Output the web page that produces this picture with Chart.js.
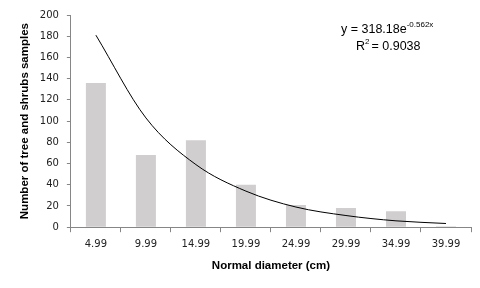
<!DOCTYPE html>
<html>
<head>
<meta charset="utf-8">
<script src="https://cdn.jsdelivr.net/npm/chart.js@4/dist/chart.umd.min.js"></script>
<style>
  html, body { margin: 0; padding: 0; background: #fff; }
  #wrap { width: 480px; height: 288px; }
</style>
</head>
<body>
<div id="wrap"><canvas id="diameterChart"></canvas></div>
<script>
const diameterClasses = ["4.99", "9.99", "14.99", "19.99", "24.99", "29.99", "34.99", "39.99"];
const sampleCounts = [136, 68, 82, 40, 21, 18, 15, 1];
// exponential trendline at each class
const trendValues = [181, 103, 59, 34, 19, 11, 6, 3.5];
const yTicks = [0, 20, 40, 60, 80, 100, 120, 140, 160, 180, 200];

const axisGray = "#868686";

const equationLabel = {
    id: "equationLabel",
    afterDraw(chart) {
        const ctx = chart.ctx;
        const area = chart.chartArea;
        const x0 = area.right - 130;
        ctx.save();
        ctx.fillStyle = "#000";
        ctx.textBaseline = "alphabetic";
        ctx.textAlign = "left";
        ctx.font = "12.5px 'Liberation Sans'";
        const main = "y = 318.18e";
        ctx.fillText(main, x0, area.top + 18);
        const w = ctx.measureText(main).width;
        ctx.font = "8px 'Liberation Sans'";
        ctx.fillText("-0.562x", x0 + w, area.top + 12);
        ctx.font = "12.5px 'Liberation Sans'";
        ctx.fillText("R", x0 + 15, area.top + 35);
        const rw = ctx.measureText("R").width;
        ctx.font = "8px 'Liberation Sans'";
        ctx.fillText("2", x0 + 15 + rw, area.top + 29);
        ctx.font = "12.5px 'Liberation Sans'";
        ctx.fillText(" = 0.9038", x0 + 15 + rw + 3, area.top + 35);
        ctx.restore();
    },
};

new Chart(document.getElementById("diameterChart").getContext("2d"), {
    data: {
        labels: diameterClasses,
        datasets: [
            {
                type: "line",
                data: trendValues,
                borderColor: "#000",
                borderWidth: 1,
                pointRadius: 0,
                cubicInterpolationMode: "monotone",
                fill: false,
                order: 0,
            },
            {
                type: "bar",
                data: sampleCounts,
                backgroundColor: "#d0cece",
                barPercentage: 0.4,
                categoryPercentage: 1,
                order: 1,
            },
        ],
    },
    options: {
        responsive: true,
        maintainAspectRatio: false,
        animation: false,
        layout: {
            padding: { top: 15, right: 9, bottom: 15, left: 18 },
        },
        plugins: {
            legend: { display: false },
            tooltip: { enabled: false },
        },
        scales: {
            x: {
                offset: true,
                title: {
                    display: true,
                    text: "Normal diameter (cm)",
                    color: "#000",
                    font: { family: "'Liberation Sans'", size: 11.5, weight: "bold" },
                    padding: { top: 3, bottom: 0 },
                },
                ticks: {
                    color: "#222",
                    font: { family: "'DejaVu Sans'", size: 10 },
                    padding: 6,
                    maxRotation: 0,
                },
                grid: {
                    offset: true,
                    drawOnChartArea: false,
                    color: axisGray,
                    tickLength: 5,
                },
                border: { color: axisGray, width: 1 },
            },
            y: {
                min: 0,
                max: 200,
                afterBuildTicks(axis) {
                    axis.ticks = yTicks.map((v) => ({ value: v }));
                },
                title: {
                    display: true,
                    text: "Number of tree and shrubs samples",
                    color: "#000",
                    font: { family: "'Liberation Sans'", size: 11.5, weight: "bold" },
                    padding: { top: 0, bottom: 0 },
                },
                ticks: {
                    color: "#222",
                    font: { family: "'DejaVu Sans'", size: 10 },
                    padding: 8,
                },
                grid: {
                    drawOnChartArea: false,
                    color: axisGray,
                    tickLength: 4,
                },
                border: { color: axisGray, width: 1 },
            },
        },
    },
    plugins: [equationLabel],
});
</script>
</body>
</html>
